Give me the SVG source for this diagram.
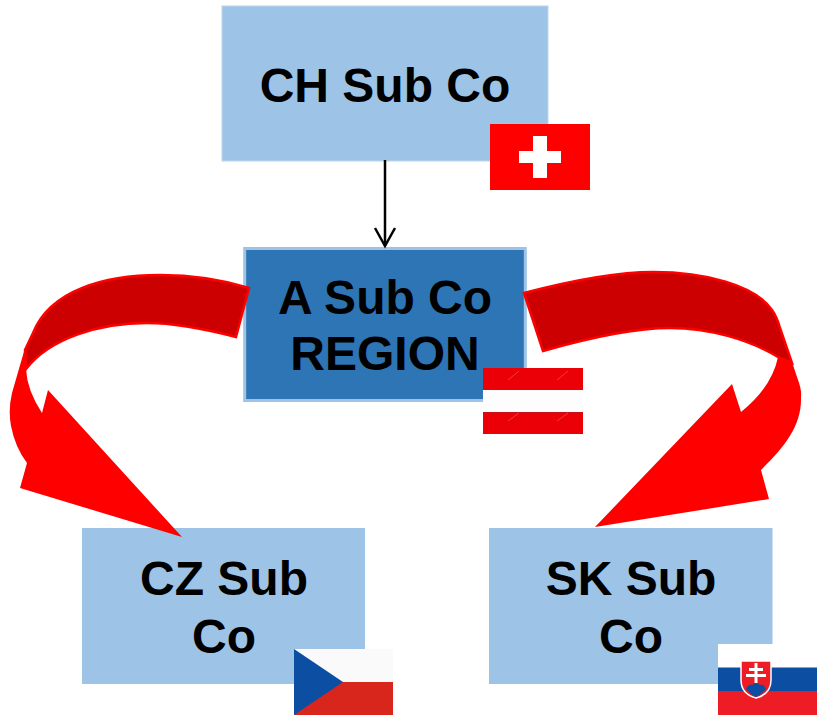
<svg xmlns="http://www.w3.org/2000/svg" width="817" height="715" viewBox="0 0 817 715">
<style>
.box{fill:#9dc3e6}
.lbl{font-family:"Liberation Sans",Arial,sans-serif;font-weight:700;font-size:48px;fill:#000;text-anchor:middle}
.band{fill:#cc0000;stroke:#ff0000;stroke-width:2.5;stroke-linejoin:miter}
.head{fill:#ff0000}
.streak{stroke:#f4544f;stroke-width:1;opacity:.7}
</style>
<defs>
<marker id="open" markerUnits="userSpaceOnUse" markerWidth="24" markerHeight="24" refX="20" refY="12" orient="auto">
<path d="M2 2L20 12L2 22" fill="none" stroke="#000" stroke-width="2.5"/>
</marker>
</defs>
<rect width="817" height="715" fill="#fff"/>
<g id="ch-sub-co"><rect class="box" x="222" y="6" width="326" height="155" stroke="#bcd6ee" stroke-width="1"/><text class="lbl" x="385" y="102">CH Sub Co</text></g>
<g id="a-sub-co"><rect x="244.700" y="248.500" width="280.600" height="152" fill="#2e75b6" stroke="#9dc3e6" stroke-width="3"/><text class="lbl" x="385" y="314">A Sub Co</text><text class="lbl" x="385" y="370">REGION</text></g>
<g id="cz-sub-co"><rect class="box" x="82" y="528" width="283" height="156"/><text class="lbl" x="224" y="595">CZ Sub</text><text class="lbl" x="224" y="653">Co</text></g>
<g id="sk-sub-co"><rect class="box" x="489" y="528" width="283.500" height="156"/><text class="lbl" x="631" y="595">SK Sub</text><text class="lbl" x="631" y="653">Co</text></g>
<g id="connectors">
<line x1="385" y1="160" x2="385" y2="246" stroke="#000" stroke-width="2.500" marker-end="url(#open)"/>
<g id="arrow-left">
<path class="head" d="M25 348L12 393Q8 410 11 426Q15 447 27 463L20 488L182 537L48 390L42 413Q27 390 26 369Z"/>
<path class="band" d="M249 288C220 279 190 275 160 275C105 275 50 290 33 333L25 350L26 369C50 338 100 323 147 323C175 323 205 329 236 337Z"/>
</g>
<g id="arrow-right">
<path class="head" d="M778 320L797 377Q802 390 801 397C802 425 785 447 761 470L769 499L595 527L732 384L741 412Q772 387 778 357Z"/>
<path class="band" d="M524 293C570 281 615 272 653 272C705 272 755 285 772 310Q777 317 780 328L792 363L778 357C750 340 710 328 670 328C630 328 585 339 543 351Z"/>
</g>
</g>
<g id="flag-ch"><rect x="490" y="124" width="100" height="66" fill="#ff0000"/><path d="M533 136H547V151H561V163H547V178H533V163H519V151H533Z" fill="#fff"/></g>
<g id="flag-at"><rect x="483" y="368" width="100" height="66" fill="#ec0008"/><rect x="483" y="389" width="100" height="1" fill="#c5101a"/><rect x="483" y="390" width="100" height="22" fill="#fdfdfd"/><rect x="483" y="412" width="100" height="1" fill="#c5101a"/>
<path class="streak" d="M508 380L519 371M557 380L568 371M508 421L519 413M557 421L568 413"/></g>
<g id="flag-cz"><rect x="294" y="649" width="99" height="33" fill="#fafafa"/><rect x="294" y="682" width="99" height="33" fill="#d9261c"/><path d="M294 649L343 682L294 715Z" fill="#0b4ea2"/></g>
<g id="flag-sk"><rect x="718" y="644" width="99" height="24" fill="#fff"/><rect x="718" y="667.500" width="99" height="24" fill="#0b4ea2"/><rect x="718" y="691" width="99" height="24" fill="#ee1c25"/>
<path d="M741 661H771V680Q771 694 756 698Q741 694 741 680Z" fill="#ee1c25" stroke="#fff" stroke-width="1.500"/>
<path d="M746 689Q749 683 752 685Q756 681 760 685Q763 683 766 689Q761 695 756 697Q751 695 746 689Z" fill="#0b4ea2"/>
<path d="M754.500 663H757.500V668H763V671H757.500V674H766V677H757.500V683H754.500V677H746V674H754.500V671H749V668H754.500Z" fill="#fff"/></g>
</svg>
